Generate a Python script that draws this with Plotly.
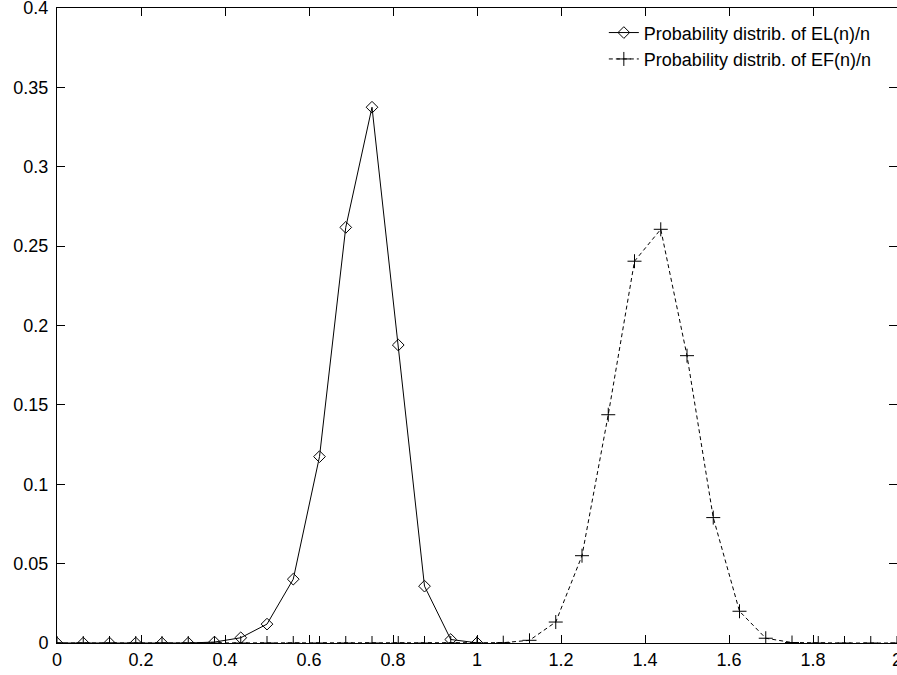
import plotly.graph_objects as go

# x positions (step 1/16)
x_el = [i / 16 for i in range(17)]
x_ef = [i / 16 for i in range(33)]

el_values = [0, 0, 0, 0, 0, 0, 0.0006, 0.0033, 0.0119, 0.0402, 0.1174, 0.2618,
             0.3375, 0.1877, 0.0358, 0.0022, 0.0001]
ef_values = [0, 0, 0, 0, 0, 0, 0, 0, 0, 0, 0, 0, 0, 0, 0, 0, 0,
             0.0002, 0.0017, 0.0132, 0.0550, 0.1438, 0.2405, 0.2606, 0.1810,
             0.0790, 0.0200, 0.0030, 0.0003, 0, 0, 0, 0]

names = ["Probability distrib. of EL(n)/n", "Probability distrib. of EF(n)/n"]
x_ticks = [0, 0.2, 0.4, 0.6, 0.8, 1, 1.2, 1.4, 1.6, 1.8, 2]
x_tick_labels = ["0", "0.2", "0.4", "0.6", "0.8", "1", "1.2", "1.4", "1.6", "1.8", "2"]
y_ticks = [0, 0.05, 0.1, 0.15, 0.2, 0.25, 0.3, 0.35, 0.4]
y_tick_labels = ["0", "0.05", "0.1", "0.15", "0.2", "0.25", "0.3", "0.35", "0.4"]

FONT = "Liberation Sans, Arial, Helvetica, sans-serif"
FS = 18

fig = go.Figure()
fig.add_trace(go.Scatter(
    x=x_el, y=el_values, name=names[0], mode="lines+markers",
    line=dict(color="black", width=1),
    marker=dict(symbol="diamond-open", size=9, color="black", line=dict(width=1, color="black")),
))
fig.add_trace(go.Scatter(
    x=x_ef, y=ef_values, name=names[1], mode="lines+markers",
    line=dict(color="black", width=1, dash="4px,3px"),
    marker=dict(symbol="cross-thin-open", size=10, color="black", line=dict(width=1, color="black")),
))

axis_common = dict(
    showgrid=False, zeroline=False, showline=True, linecolor="black", linewidth=1,
    mirror="allticks", ticks="inside", ticklen=8, tickcolor="black", tickwidth=1,
    tickfont=dict(family=FONT, size=FS, color="black"), automargin=False,
    ticklabeloverflow="allow",
)

fig.update_layout(
    width=897, height=675,
    margin=dict(l=57, r=0, t=8, b=32, pad=0),
    paper_bgcolor="white", plot_bgcolor="white",
    font=dict(family=FONT, size=FS, color="black"),
    xaxis=dict(range=[0, 2], tickvals=x_ticks, ticktext=x_tick_labels,
               ticklabelstandoff=0, **axis_common),
    yaxis=dict(range=[0, 0.4], tickvals=y_ticks, ticktext=y_tick_labels,
               ticklabelstandoff=4, **axis_common),
    legend=dict(x=0.976, y=0.99, xanchor="right", yanchor="top",
                bgcolor="rgba(0,0,0,0)", font=dict(family=FONT, size=FS),
                tracegroupgap=0, itemwidth=30),
    showlegend=True,
)

fig.write_html(
    "out.html",
    config={"displayModeBar": False},
    post_script="document.body.style.margin='0px';document.body.style.overflow='hidden';",
)
